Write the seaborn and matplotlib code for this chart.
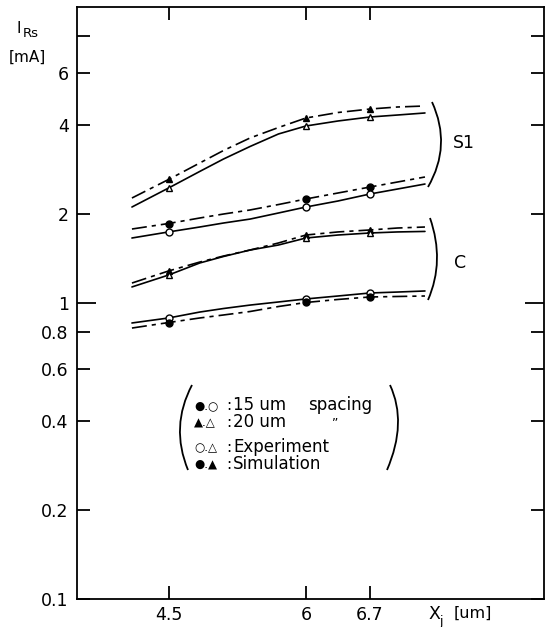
import numpy as np
import pandas as pd
import matplotlib
matplotlib.use("Agg")
import matplotlib.pyplot as plt
from matplotlib.path import Path
from matplotlib.patches import PathPatch
from matplotlib.ticker import NullLocator
import seaborn as sns

# ---------------- data ----------------
xj = [4.1, 4.5, 4.84, 5.1, 5.39, 5.7, 6.0, 6.35, 6.7, 7.0, 7.3]   # curve samples [um]
marker_idx = [1, 6, 8]                                            # measured points at 4.5, 6, 6.7

s1_20_sim = [2.263, 2.614, 2.971, 3.275, 3.610, 3.916, 4.217, 4.401, 4.522, 4.594, 4.630]
s1_20_exp = [2.110, 2.446, 2.782, 3.065, 3.379, 3.724, 3.963, 4.120, 4.250, 4.316, 4.385]
s1_15_sim = [1.778, 1.856, 1.937, 1.998, 2.062, 2.151, 2.246, 2.353, 2.465, 2.563, 2.665]
s1_15_exp = [1.658, 1.738, 1.806, 1.863, 1.921, 2.014, 2.110, 2.211, 2.335, 2.427, 2.523]
c_20_sim = [1.168, 1.283, 1.375, 1.441, 1.510, 1.595, 1.697, 1.738, 1.765, 1.792, 1.806]
c_20_exp = [1.133, 1.243, 1.365, 1.436, 1.510, 1.570, 1.658, 1.697, 1.724, 1.738, 1.745]
c_15_exp = [0.856, 0.890, 0.932, 0.958, 0.984, 1.008, 1.032, 1.056, 1.081, 1.089, 1.098]
c_15_sim = [0.823, 0.859, 0.890, 0.911, 0.936, 0.973, 1.004, 1.028, 1.048, 1.052, 1.056]

x_ticks = [4.5, 6, 6.7]
x_ticklabels = ["4.5", "6", "6.7"]
y_ticks = [0.1, 0.2, 0.4, 0.6, 0.8, 1, 2, 4, 6, 8]
y_ticklabels = ["0.1", "0.2", "0.4", "0.6", "0.8", "1", "2", "4", "6", ""]

# ---------------- figure ----------------
sns.set_style("ticks")
plt.rcParams["font.family"] = ["DejaVu Sans"]
plt.rcParams["text.color"] = "black"

W, H = 552, 627
fig = plt.figure(figsize=(W / 100, H / 100), dpi=100)

def fx(x):
    return x / W

def fy(y):
    return 1 - y / H

ax = fig.add_axes([fx(77), fy(599), fx(544) - fx(77), fy(7) - fy(599)])

dashdot = (0, (9, 3, 2.5, 3))
series = [
    (s1_20_sim, dashdot, "^", "black"),
    (s1_20_exp, "-", "^", "white"),
    (s1_15_sim, dashdot, "o", "black"),
    (s1_15_exp, "-", "o", "white"),
    (c_20_sim, dashdot, "^", "black"),
    (c_20_exp, "-", "^", "white"),
    (c_15_exp, "-", "o", "white"),
    (c_15_sim, dashdot, "o", "black"),
]
for vals, ls, mk, fc in series:
    df = pd.DataFrame({"x": xj, "y": vals})
    sns.lineplot(data=df, x="x", y="y", ax=ax, color="black", linewidth=1.2,
                 linestyle=ls, marker=mk, markevery=marker_idx, markersize=5,
                 markerfacecolor=fc, markeredgecolor="black", markeredgewidth=1.0,
                 legend=False)

ax.set_yscale("log")
ax.set_xlim(3.5, 8.6)
ax.set_ylim(0.1, 10)
ax.set_xticks(x_ticks)
ax.set_xticklabels(x_ticklabels)
ax.set_yticks(y_ticks)
ax.set_yticklabels(y_ticklabels)
ax.yaxis.set_minor_locator(NullLocator())
ax.set_xlabel("")
ax.set_ylabel("")
for sp in ax.spines.values():
    sp.set_visible(True)
    sp.set_linewidth(1.3)
    sp.set_color("black")
ax.tick_params(axis="both", which="major", direction="in", length=9.5, width=1.3,
               top=True, right=True, labelsize=12.5, colors="black")
ax.tick_params(axis="y", pad=6)
ax.tick_params(axis="x", pad=5)
# longer tick at 1
t1 = ax.yaxis.get_major_ticks()[5]
t1.tick1line.set_markersize(14)
t1.tick2line.set_markersize(14)

# ---------------- axis titles ----------------
fig.text(fx(17), fy(33), "I", fontsize=11, ha="left", va="baseline", color="black")
fig.text(fx(23), fy(37), "Rs", fontsize=9.5, ha="left", va="baseline", color="black")
fig.text(fx(9), fy(62), "[mA]", fontsize=11, ha="left", va="baseline", color="black")

fig.text(fx(428), fy(619), "X", fontsize=12.5, ha="left", va="baseline", color="black")
fig.text(fx(439), fy(625), "j", fontsize=9, ha="left", va="baseline", color="black")
fig.text(fx(454), fy(618), "[um]", fontsize=11.5, ha="left", va="baseline", color="black")

# ---------------- group brackets and labels ----------------
def bracket(p0, pm, p2, lw=1.3):
    c = (2 * pm[0] - 0.5 * (p0[0] + p2[0]), 2 * pm[1] - 0.5 * (p0[1] + p2[1]))
    verts = [(fx(p0[0]), fy(p0[1])), (fx(c[0]), fy(c[1])), (fx(p2[0]), fy(p2[1]))]
    path = Path(verts, [Path.MOVETO, Path.CURVE3, Path.CURVE3])
    fig.add_artist(PathPatch(path, facecolor="none", edgecolor="black", lw=lw,
                             transform=fig.transFigure))

bracket((432, 102), (441, 145), (428, 187))
bracket((430, 218), (437, 260), (428, 300))
fig.text(fx(464), fy(143), "S1", fontsize=12.5, ha="center", va="center", color="black")
fig.text(fx(460), fy(263), "C", fontsize=12.5, ha="center", va="center", color="black")

# ---------------- legend text block ----------------
bracket((192, 385), (180, 427), (188, 470))
bracket((390, 385), (398, 425), (387, 470))

sym = 8.5
txt = 12
rows = [
    (410, "●.○", "15 um", "spacing", 308),
    (427, "▲.△", "20 um", "\u201d", 332),
    (452, "○.△", "Experiment", None, None),
    (469, "●.▲", "Simulation", None, None),
]
for yb, s, t, extra, ex in rows:
    fig.text(fx(194), fy(yb - 1), s, fontsize=sym, ha="left", va="baseline", color="black")
    fig.text(fx(226), fy(yb), ":", fontsize=txt - 1, ha="left", va="baseline", color="black")
    fig.text(fx(233), fy(yb), t, fontsize=txt, ha="left", va="baseline", color="black")
    if extra:
        fig.text(fx(ex), fy(yb), extra, fontsize=txt if ex == 308 else 9,
                 ha="left", va="baseline", color="black")

fig.savefig("out.png", dpi=100)
